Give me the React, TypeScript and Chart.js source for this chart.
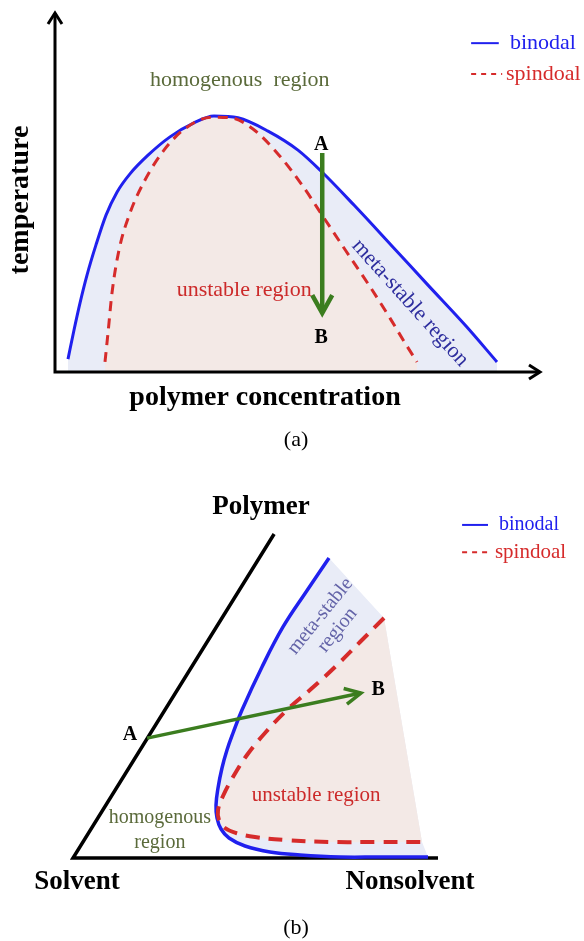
import React, { useEffect, useRef } from 'react';
import { Chart, registerables } from 'chart.js';
Chart.register(...registerables);

// ---------------- Panel (a): temperature vs polymer concentration ----------------
const binodalAConc = [2.68, 3.92, 5.15, 6.60, 8.45, 10.52, 12.78, 15.46, 19.18, 23.71, 28.66, 32.78, 37.73, 43.92, 50.10, 55.05, 61.65, 69.28, 76.91, 84.74, 91.13];
const binodalATemp = [3.6, 11.7, 19.2, 27.0, 35.4, 43.7, 50.1, 55.2, 60.4, 65.5, 69.4, 71.3, 70.8, 67.1, 61.8, 55.7, 46.5, 35.4, 24.2, 12.8, 2.8];
const spinodalAConc = [10.31, 10.93, 11.75, 13.20, 15.46, 18.56, 22.47, 27.01, 32.37, 36.29, 40.82, 46.19, 50.93, 55.46, 60.0, 64.74, 69.07, 72.16, 74.64];
const spinodalATemp = [2.8, 10.9, 22.0, 34.0, 44.3, 53.5, 61.8, 68.0, 71.0, 70.8, 67.7, 60.4, 52.1, 42.9, 33.7, 24.2, 15.0, 8.1, 2.8];
const axesAX = [0, 0, 100];
const axesAY = [100, 0, 0];
const pathAConc = [55.1, 55.1]; // A -> B
const pathATemp = [61.0, 16.4];

// ---------------- Panel (b): ternary Polymer / Solvent / Nonsolvent ----------------
const binodalBX = [70.14, 63.84, 57.53, 51.78, 46.30, 43.84, 42.19, 40.82, 39.73, 39.18, 39.45, 40.55, 42.74, 47.12, 53.97, 62.19, 73.15, 84.11, 97.26];
const binodalBY = [92.59, 82.10, 71.30, 58.95, 45.68, 38.58, 33.33, 27.78, 21.60, 16.36, 12.35, 8.95, 6.17, 3.70, 1.85, 0.93, 0.31, 0.31, 0.31];
const spinodalBX = [85.21, 78.63, 71.78, 65.21, 58.63, 52.60, 47.67, 43.84, 41.10, 39.73, 40.0, 41.64, 44.66, 49.86, 58.08, 70.41, 84.11, 95.62];
const spinodalBY = [74.07, 66.67, 58.95, 52.16, 45.68, 38.58, 31.79, 25.0, 19.14, 14.81, 11.73, 9.26, 7.72, 6.48, 5.56, 4.94, 4.94, 4.94];
const triangleX = [55.1, 0, 100];
const triangleY = [100, 0, 0];
const pathBX = [20.3, 78.9]; // A -> B
const pathBY = [37.0, 50.9];

const SERIF = '"Liberation Serif", "Times New Roman", serif';
const BLUE = '#2020ee';
const RED = '#d62b2b';
const GREEN = '#3b7d1f';
const OLIVE = '#5a6a3a';

const zip = (xs: number[], ys: number[]) => xs.map((x, i) => ({ x, y: ys[i] }));

type TextSpec = { t: string; x: number; y: number; font: string; color: string; rot?: number; lh?: number };
type LegendSpec = { x1: number; x2: number; y: number; tx: number; text: string; color: string; dash: number[]; font: string; lw: number };
type Spec = {
  name: string;
  regions: { dataset: number; close: number[][]; color: string }[];
  heads: { dataset: number; len: number; hw: number; color: string; width: number; both?: boolean }[];
  texts: TextSpec[];
  legend: LegendSpec[];
};

function makeDecor(spec: Spec) {
  return {
    id: 'decor' + spec.name,
    beforeDatasetsDraw(chart: any) {
      const { ctx, chartArea } = chart;
      const sx = chart.scales.x, sy = chart.scales.y;
      for (const r of spec.regions) {
        const meta = chart.getDatasetMeta(r.dataset);
        const line: any = meta.dataset;
        if (!line) continue;
        line.updateControlPoints(chartArea, 'x');
        ctx.save();
        ctx.beginPath();
        line.path(ctx);
        for (const [x, y] of r.close) ctx.lineTo(sx.getPixelForValue(x), sy.getPixelForValue(y));
        ctx.closePath();
        ctx.fillStyle = r.color;
        ctx.fill();
        ctx.restore();
      }
    },
    afterDatasetsDraw(chart: any) {
      const { ctx } = chart;
      const sx = chart.scales.x, sy = chart.scales.y;
      const px = (v: number) => sx.getPixelForValue(v);
      const py = (v: number) => sy.getPixelForValue(v);
      for (const h of spec.heads) {
        const data = chart.data.datasets[h.dataset].data as { x: number; y: number }[];
        const ends: [any, any][] = [[data[data.length - 2], data[data.length - 1]]];
        if (h.both) ends.push([data[1], data[0]]);
        for (const [a, b] of ends) {
          const x1 = px(a.x), y1 = py(a.y), x2 = px(b.x), y2 = py(b.y);
          const d = Math.hypot(x2 - x1, y2 - y1);
          const ux = (x2 - x1) / d, uy = (y2 - y1) / d;
          ctx.save();
          ctx.strokeStyle = h.color;
          ctx.lineWidth = h.width;
          ctx.lineJoin = 'miter';
          ctx.lineCap = 'butt';
          ctx.beginPath();
          ctx.moveTo(x2 - ux * h.len - uy * h.hw, y2 - uy * h.len + ux * h.hw);
          ctx.lineTo(x2, y2);
          ctx.lineTo(x2 - ux * h.len + uy * h.hw, y2 - uy * h.len - ux * h.hw);
          ctx.stroke();
          ctx.restore();
        }
      }
      for (const l of spec.legend) {
        ctx.save();
        ctx.strokeStyle = l.color;
        ctx.lineWidth = l.lw;
        ctx.setLineDash(l.dash);
        ctx.beginPath();
        ctx.moveTo(px(l.x1), py(l.y));
        ctx.lineTo(px(l.x2), py(l.y));
        ctx.stroke();
        ctx.setLineDash([]);
        ctx.fillStyle = l.color;
        ctx.font = l.font;
        ctx.textAlign = 'left';
        ctx.textBaseline = 'middle';
        ctx.fillText(l.text, px(l.tx), py(l.y));
        ctx.restore();
      }
      for (const t of spec.texts) {
        ctx.save();
        ctx.translate(px(t.x), py(t.y));
        if (t.rot) ctx.rotate((t.rot * Math.PI) / 180);
        ctx.fillStyle = t.color;
        ctx.font = t.font;
        ctx.textAlign = 'center';
        ctx.textBaseline = 'middle';
        const lines = t.t.split('\n');
        const lh = t.lh || 20;
        lines.forEach((s, i) => ctx.fillText(s, 0, (i - (lines.length - 1) / 2) * lh));
        ctx.restore();
      }
    },
  };
}

const baseOptions = (padding: any) => ({
  responsive: false,
  animation: false as const,
  devicePixelRatio: 1,
  layout: { padding },
  plugins: { legend: { display: false }, tooltip: { enabled: false } },
  elements: { point: { radius: 0 } },
  scales: {
    x: { type: 'linear' as const, min: 0, max: 100, display: false },
    y: { type: 'linear' as const, min: 0, max: 100, display: false },
  },
});

function configA() {
  const spec: Spec = {
    name: 'A',
    regions: [
      { dataset: 2, close: [[binodalAConc[binodalAConc.length - 1], 0], [binodalAConc[0], 0]], color: '#e9ecf7' },
      { dataset: 1, close: [[spinodalAConc[spinodalAConc.length - 1], 0], [spinodalAConc[0], 0]], color: '#f3e9e6' },
    ],
    heads: [
      { dataset: 0, len: 18, hw: 10, color: GREEN, width: 4.5 },
      { dataset: 3, len: 11, hw: 7, color: '#000', width: 3, both: true },
    ],
    texts: [
      { t: 'homogenous  region', x: 38.1, y: 81.3, font: `22px ${SERIF}`, color: OLIVE },
      { t: 'unstable region', x: 39.0, y: 22.8, font: `22px ${SERIF}`, color: '#cc2a2a' },
      { t: 'meta-stable region', x: 73.2, y: 19.2, font: `22px ${SERIF}`, color: '#2e2e9e', rot: 48 },
      { t: 'A', x: 54.9, y: 63.2, font: `bold 20px ${SERIF}`, color: '#000' },
      { t: 'B', x: 54.9, y: 9.5, font: `bold 20px ${SERIF}`, color: '#000' },
      { t: 'temperature', x: -7.0, y: 47.9, font: `bold 28px ${SERIF}`, color: '#000', rot: -90 },
      { t: 'polymer concentration', x: 43.3, y: -7.2, font: `bold 28px ${SERIF}`, color: '#000' },
      { t: '(a)', x: 49.7, y: -18.9, font: `22px ${SERIF}`, color: '#000' },
    ],
    legend: [
      { x1: 85.8, x2: 91.5, y: 91.6, tx: 93.8, text: 'binodal', color: BLUE, dash: [], font: `22px ${SERIF}`, lw: 2 },
      { x1: 85.8, x2: 92.2, y: 83.0, tx: 93.0, text: 'spindoal', color: RED, dash: [5, 5], font: `22px ${SERIF}`, lw: 2 },
    ],
  };
  const plugin = makeDecor(spec);
  return {
    type: 'scatter' as const,
    data: {
      datasets: [
        { data: zip(pathAConc, pathATemp), showLine: true, borderColor: GREEN, borderWidth: 4.5, pointRadius: 0, clip: false as any },
        { data: zip(spinodalAConc, spinodalATemp), showLine: true, borderColor: RED, borderWidth: 3, borderDash: [10, 7], cubicInterpolationMode: 'monotone' as const, pointRadius: 0, clip: false as any },
        { data: zip(binodalAConc, binodalATemp), showLine: true, borderColor: BLUE, borderWidth: 3, cubicInterpolationMode: 'monotone' as const, pointRadius: 0, clip: false as any },
        { data: zip(axesAX, axesAY), showLine: true, borderColor: '#000', borderWidth: 3, pointRadius: 0, clip: false as any, borderJoinStyle: 'miter' as const },
      ],
    },
    options: baseOptions({ left: 55, right: 44, top: 13, bottom: 88 }),
    plugins: [plugin],
  };
}

function configB() {
  const spec: Spec = {
    name: 'B',
    regions: [
      { dataset: 2, close: [[spinodalBX[spinodalBX.length - 1], spinodalBY[spinodalBY.length - 1]], [spinodalBX[0], spinodalBY[0]]], color: '#e9ecf7' },
      { dataset: 1, close: [], color: '#f3e9e6' },
    ],
    heads: [{ dataset: 0, len: 16, hw: 8, color: GREEN, width: 3.5 }],
    texts: [
      { t: 'Polymer', x: 51.5, y: 108.3, font: `bold 27px ${SERIF}`, color: '#000' },
      { t: 'Solvent', x: 1.1, y: -7.4, font: `bold 27px ${SERIF}`, color: '#000' },
      { t: 'Nonsolvent', x: 92.3, y: -7.4, font: `bold 27px ${SERIF}`, color: '#000' },
      { t: 'A', x: 15.6, y: 38.0, font: `bold 20px ${SERIF}`, color: '#000' },
      { t: 'B', x: 83.6, y: 51.9, font: `bold 20px ${SERIF}`, color: '#000' },
      { t: 'meta-stable\nregion', x: 70.1, y: 72.5, font: `20px ${SERIF}`, color: '#6464a8', rot: -51, lh: 22 },
      { t: 'unstable region', x: 66.6, y: 19.4, font: `21px ${SERIF}`, color: '#cc2a2a' },
      { t: 'homogenous\nregion', x: 23.8, y: 8.5, font: `20px ${SERIF}`, color: OLIVE, lh: 25 },
      { t: '(b)', x: 61.1, y: -21.6, font: `22px ${SERIF}`, color: '#000' },
    ],
    legend: [
      { x1: 106.6, x2: 113.7, y: 102.8, tx: 116.7, text: 'binodal', color: BLUE, dash: [], font: `20px ${SERIF}`, lw: 2 },
      { x1: 106.6, x2: 114.5, y: 94.4, tx: 115.6, text: 'spindoal', color: RED, dash: [5, 5], font: `21px ${SERIF}`, lw: 2 },
    ],
  };
  const plugin = makeDecor(spec);
  return {
    type: 'scatter' as const,
    data: {
      datasets: [
        { data: zip(pathBX, pathBY), showLine: true, borderColor: GREEN, borderWidth: 3.5, pointRadius: 0, clip: false as any },
        { data: zip(spinodalBX, spinodalBY), showLine: true, borderColor: RED, borderWidth: 4, borderDash: [14, 9], tension: 0.4, pointRadius: 0, clip: false as any },
        { data: zip(binodalBX, binodalBY), showLine: true, borderColor: BLUE, borderWidth: 3.5, tension: 0.4, pointRadius: 0, clip: false as any },
        { data: zip(triangleX, triangleY), showLine: true, borderColor: '#000', borderWidth: 3.5, pointRadius: 0, clip: false as any, borderJoinStyle: 'miter' as const },
      ],
    },
    options: baseOptions({ left: 73, right: 146, top: 64, bottom: 83 }),
    plugins: [plugin],
  };
}

function Panel({ top, height, make }: { top: number; height: number; make: () => any }) {
  const ref = useRef<HTMLCanvasElement>(null);
  useEffect(() => {
    const chart = new Chart(ref.current as HTMLCanvasElement, make());
    return () => chart.destroy();
  }, []);
  return (
    <canvas
      ref={ref}
      width={584}
      height={height}
      style={{ position: 'absolute', left: 0, top, width: 584, height, display: 'block' }}
    />
  );
}

export default function App() {
  return (
    <div style={{ position: 'absolute', left: 0, top: 0, width: 584, height: 941, background: '#fff' }}>
      <Panel top={0} height={460} make={configA} />
      <Panel top={470} height={471} make={configB} />
    </div>
  );
}
